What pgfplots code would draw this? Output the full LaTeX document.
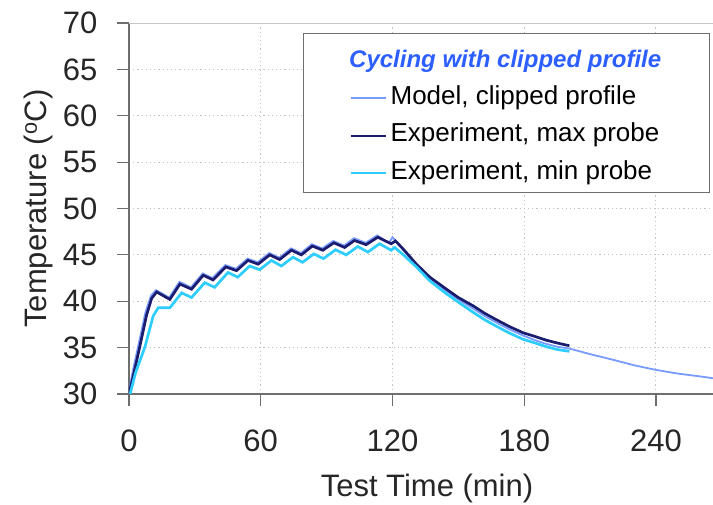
\documentclass[border=0pt]{standalone}
\usepackage{fontspec}
\setmainfont{Liberation Sans}
\usepackage{pgfplots}
\pgfplotsset{compat=1.18}
\definecolor{modelc}{RGB}{120,155,255}
\definecolor{maxc}{RGB}{28,28,110}
\definecolor{minc}{RGB}{45,205,255}
\definecolor{titlec}{RGB}{45,95,255}
\definecolor{axc}{RGB}{110,110,110}
\definecolor{gridc}{RGB}{195,195,195}
\begin{document}
\begin{tikzpicture}
\begin{axis}[
 scale only axis, width=584pt, height=371pt,
 at={(0,0)}, anchor=south west,
 xmin=0, xmax=266, ymin=30, ymax=70,
 xtick={0,60,120,180,240}, ytick={30,35,...,70},
 axis x line*=bottom, axis y line*=left,
 axis line style={axc, line width=1.3pt},
 tick align=outside, major tick length=12pt,
 tick style={axc, line width=1.2pt},
 grid=major, major grid style={gridc, line width=1pt, dash pattern=on 1.2pt off 3pt},
 tick label style={font=\fontsize{31}{31}\selectfont, text=black!85},
 yticklabel style={xshift=-16pt},
 xticklabel style={yshift=-20pt},
 /pgf/number format/assume math mode=true,
 xlabel={Test Time (min)}, ylabel={Temperature (\textsuperscript{o}C)},
 every axis x label/.style={at={([xshift=298pt,yshift=-94pt]axis description cs:0,0)}, anchor=center, font=\fontsize{31}{31}\selectfont, text=black!85},
 every axis y label/.style={at={([xshift=-91pt]axis description cs:0,0.5)}, anchor=center, rotate=90, font=\fontsize{31}{31}\selectfont, text=black!85},
 legend style={at={(1,1)}, anchor=north east, xshift=-3pt, yshift=-10pt, draw=axc, line width=1.2pt, fill=white, font=\fontsize{26}{26}\selectfont, inner xsep=46pt, inner ysep=7pt, row sep=13.5pt, nodes={inner ysep=1pt, inner xsep=4pt, text height=17pt, text depth=5pt}},
 legend cell align=left,
 legend image code/.code={\draw[#1, line width=2.2pt] (0pt,0pt) -- (35pt,0pt);},
]
\addlegendimage{empty legend}
\addlegendentry[text height=25pt]{}
\addplot[modelc, line width=1.8pt] coordinates {
(0,30.3) (2,32.8) (4.5,35.5) (7.5,38.8) (10,40.6) (12.3,41.2) (18.3,40.4) (23,42.1) (28.2,41.5) (33.6,43.0) (38,42.5) (43.9,43.9) (48.7,43.5) (54,44.6) (58.6,44.2) (63.9,45.2) (68.4,44.7) (73.8,45.7) (78.3,45.2) (83.3,46.15) (88,45.7) (93,46.5) (98,46.0) (102.5,46.8) (107.8,46.3) (113,47.1) (118.5,46.3) (120,46.9) (121.5,46.5) (125,45.5) (130.9,43.9) (137,42.5) (144.6,41.1) (150,40.2) (156.8,39.2) (162,38.4) (167.4,37.7) (173,37.0) (179.5,36.3) (185,35.8) (190.1,35.4) (195,35.1) (200.6,34.9) (210,34.3) (220.3,33.7) (230,33.1) (240,32.6) (250,32.2) (260,31.9) (266,31.7)
};
\addlegendentry{Model, clipped profile}
\addplot[maxc, line width=2.7pt] coordinates {
(0,30) (2,32) (5,35.2) (8,38.5) (10.3,40.3) (12.6,41.0) (18.6,40.2) (23.2,41.85) (28.5,41.3) (33.8,42.8) (38.3,42.3) (44.1,43.7) (49,43.3) (54.2,44.4) (58.8,44.0) (64.1,45.0) (68.6,44.5) (74,45.5) (78.5,45.0) (83.5,45.95) (88.3,45.5) (93.3,46.3) (98.2,45.8) (102.7,46.55) (108,46.1) (113.3,46.9) (119.4,46.2) (121.4,46.5) (125,45.6) (130.9,44.0) (137,42.6) (144.6,41.3) (150,40.4) (156.8,39.5) (162,38.7) (167.4,38.0) (173,37.3) (179.5,36.6) (185,36.2) (190.1,35.8) (195,35.5) (200.6,35.2)
};
\addlegendentry{Experiment, max probe}
\addplot[minc, line width=2.7pt] coordinates {
(0.5,30) (3,32.3) (7.3,35.1) (11,38.4) (13.3,39.3) (18.6,39.3) (24,40.9) (28.5,40.4) (34.5,42.0) (39,41.5) (45.1,43.1) (49.5,42.6) (55,43.8) (59.5,43.4) (64.9,44.4) (69.4,43.8) (74.7,44.75) (79,44.2) (84.2,45.1) (88.6,44.6) (94.1,45.55) (98.9,45.0) (104.2,45.9) (108.8,45.3) (114.1,46.2) (119.4,45.5) (121,45.8) (125,45.0) (130.9,43.7) (137,42.2) (144.6,40.8) (150,39.9) (156.8,38.8) (162,38.0) (167.4,37.3) (173,36.6) (179.5,35.9) (185,35.5) (190.1,35.1) (195,34.8) (200.6,34.6)
};
\addlegendentry{Experiment, min probe}
\draw[gray!45, line width=1pt] (rel axis cs:0,1) -- (rel axis cs:1,1);
\coordinate (T) at (rel axis cs:0.3767,0.8976);
\end{axis}
\node[anchor=west, inner sep=0pt, text=titlec, font=\fontsize{24}{24}\selectfont\bfseries\itshape] at (T) {Cycling with clipped profile};
\pgfresetboundingbox
\useasboundingbox (-129pt,-110pt) rectangle (584pt,394pt);
\end{tikzpicture}
\end{document}
